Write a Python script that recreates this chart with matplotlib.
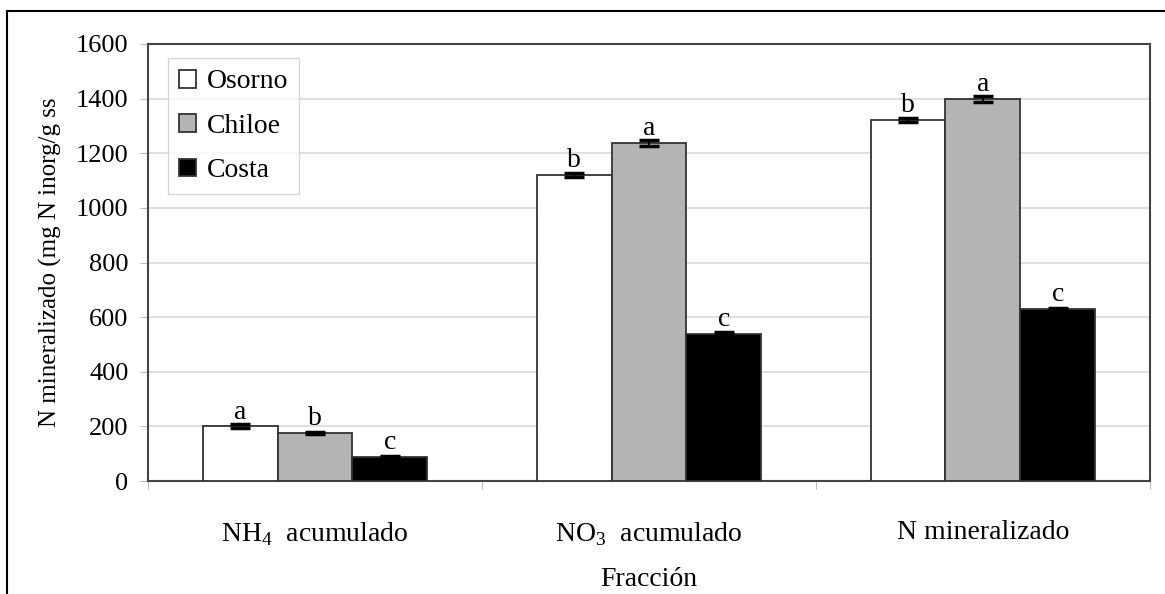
import numpy as np
import matplotlib.pyplot as plt
from matplotlib.patches import Rectangle

plt.rcParams['font.family'] = 'Liberation Serif'
plt.rcParams['mathtext.fontset'] = 'custom'
plt.rcParams['mathtext.rm'] = 'Liberation Serif'

fracciones = ['NH$_4$  acumulado', 'NO$_3$  acumulado', 'N mineralizado']
sitios = ['Osorno', 'Chiloe', 'Costa']
osorno = [201, 1120, 1322]
chiloe = [176, 1238, 1399]
costa = [88, 540, 630]
err_osorno = [7, 7, 7]
err_chiloe = [5, 10, 12]
err_costa = [4, 4, 5]
letras_osorno = ['a', 'b', 'b']
letras_chiloe = ['b', 'a', 'a']
letras_costa = ['c', 'c', 'c']

valores = [osorno, chiloe, costa]
errores = [err_osorno, err_chiloe, err_costa]
letras = [letras_osorno, letras_chiloe, letras_costa]
colores = ['white', '#b4b4b4', 'black']

fig = plt.figure(figsize=(11.65, 5.94), dpi=100)
ax = fig.add_axes([0.127, 0.190, 0.860, 0.736])

x = np.arange(len(fracciones))
w = 0.224
for i, sitio in enumerate(sitios):
    pos = x + (i - 1) * w
    ax.bar(pos, valores[i], width=w, color=colores[i], edgecolor='#333333',
           linewidth=1.3, label=sitio, zorder=3)
    ax.errorbar(pos, valores[i], yerr=errores[i], fmt='none', ecolor='black',
                elinewidth=1.5, capsize=7, capthick=2.5, zorder=4)
    for p, v, t in zip(pos, valores[i], letras[i]):
        ax.text(p, v + 28, t, ha='center', va='baseline', fontsize=20, zorder=5)

ax.set_xlim(-0.5, 2.5)
ax.set_ylim(0, 1600)
ax.set_yticks(range(0, 1601, 200))
ax.set_xticks([-0.5, 0.5, 1.5, 2.5], minor=False)
ax.set_xticklabels([])
ax.set_xticks(x, minor=True)
ax.set_xticklabels(fracciones, minor=True)
ax.tick_params(axis='x', which='minor', length=0, labelsize=20, pad=28)
ax.tick_params(axis='x', which='major', length=6, color='#bbbbbb')
ax.tick_params(axis='y', labelsize=19, length=6, color='#bbbbbb', pad=8)
ax.yaxis.grid(True, color='#dddddd', linewidth=1.3, zorder=0)
for s in ax.spines.values():
    s.set_color('#444444')
    s.set_linewidth(1.5)

ax.set_xlabel('Fracción', fontsize=20, labelpad=14)
ax.set_ylabel('N mineralizado (mg N inorg/g ss', fontsize=18, labelpad=10)

leg = ax.legend(loc='upper left', bbox_to_anchor=(0.02, 0.967), fontsize=20,
                frameon=True, fancybox=False, handlelength=0.6, handleheight=0.6,
                handletextpad=0.4, labelspacing=0.7, borderpad=0.4,
                borderaxespad=0)
leg.get_frame().set_edgecolor('#cccccc')
leg.get_frame().set_linewidth(1.0)

# marco exterior
fig.add_artist(Rectangle((7 / 1165, -0.1), 1.2, 1.1 - 11 / 594,
                         transform=fig.transFigure, fill=False,
                         edgecolor='black', linewidth=1.5, clip_on=False))

fig.savefig('out.png', dpi=100)
